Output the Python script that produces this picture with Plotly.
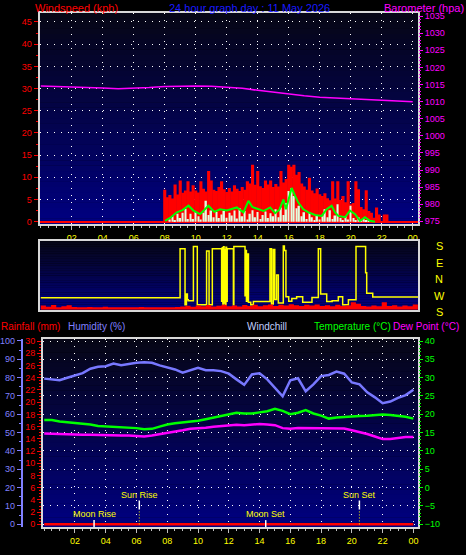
import plotly.graph_objects as go

FIG_W, FIG_H = 466, 555

# ------------------------------------------------------------------ data
HOUR_TICKS = [2, 4, 6, 8, 10, 12, 14, 16, 18, 20, 22, 24]
HOUR_LABELS = ["02", "04", "06", "08", "10", "12", "14", "16", "18", "20", "22", "00"]

# gusts (kph), 10-minute bars starting 08:00
GUST_START, GUST_STEP = 8.0, 1 / 6
gust = [7.2, 5.5, 6.0, 5.2, 8.4, 6.1, 9.3, 6.5, 7.0, 9.1, 6.8, 8.2, 7.0, 6.6, 9.1, 7.4,
        6.8, 11.4, 9.3, 7.2, 6.9, 7.8, 9.1, 7.3, 6.7, 7.6, 6.8, 8.2, 7.4, 6.9, 7.8, 7.2,
        9.1, 8.6, 12.8, 8.3, 11.4, 8.0, 7.6, 9.3, 8.4, 9.3, 7.8, 8.5, 7.9, 11.4, 8.8, 9.6,
        12.8, 12.4, 12.8, 10.6, 11.2, 8.6, 7.9, 7.2, 9.9, 7.0, 6.4, 7.5, 6.2, 5.8, 6.4, 5.3,
        4.8, 9.1, 5.2, 9.1, 4.9, 5.8, 4.4, 9.1, 3.9, 4.2, 9.1, 7.3, 3.3, 2.8, 7.1, 2.4,
        2.0, 0.9, 3.2, 1.6, 0.0, 1.6, 1.6, 0.0]

# average wind (kph), 10-minute bars starting 08:20
AVG_START, AVG_STEP = 8.333, 1 / 6
avg_wind = [0.5, 1.2, 0.3, 1.8, 0.8, 2.0, 2.9, 0.6, 1.8, 0.6, 2.2, 1.2, 0.5, 2.0, 4.7, 1.5,
            2.5, 1.0, 2.2, 0.8, 1.6, 2.4, 0.9, 2.0, 1.4, 2.5, 0.7, 3.1, 1.2, 2.4, 0.5, 1.8,
            2.6, 1.0, 2.2, 0.6, 1.5, 2.3, 0.8, 1.9, 1.2, 2.8, 1.0, 3.2, 1.5, 4.2, 6.9, 7.6,
            5.8, 3.0, 3.6, 1.2, 2.1, 0.6, 2.0, 1.0, 0.4, 1.5, 0.5, 1.2, 2.8, 1.0, 2.6, 0.6,
            1.4, 3.9, 0.8, 0.3, 1.2, 0.5, 3.6, 0.8, 0.3, 1.0, 0.2, 0.6, 0.2, 0.4]

# running average wind speed (green line)
avg_line_t = [8.02, 8.4, 8.78, 9.15, 9.53, 9.85, 10.28, 10.55, 10.82, 11.2, 11.57, 12.0, 12.3,
              12.65, 13.08, 13.4, 13.65, 13.94, 14.37, 14.8, 15.12, 15.4, 15.66, 15.82, 15.98,
              16.19, 16.41, 16.62, 16.94, 17.27, 17.7, 18.13, 18.45, 18.77, 18.99, 19.2,
              19.63, 19.95, 20.28, 20.6, 20.92, 21.24, 21.57]
avg_line = [0.2, 1.0, 2.1, 2.6, 3.6, 2.5, 1.7, 2.6, 3.6, 2.2, 2.8, 2.5, 2.9, 3.2, 2.1, 4.7,
            3.3, 2.9, 2.4, 3.2, 1.9, 2.7, 5.0, 2.8, 5.0, 7.6, 5.8, 4.3, 2.8, 2.1, 1.5, 1.3,
            2.8, 3.6, 2.1, 1.3, 1.0, 2.5, 1.7, 0.2, 1.0, 0.2, 0.0]

# barometer (hPa), hourly
baro_t = [0, 1, 2, 3, 4, 5, 6, 7, 8, 9, 10, 11, 12, 13, 14, 15, 16, 17, 18, 19, 20, 21, 22, 23, 24]
baro = [1014.6, 1014.5, 1014.4, 1014.2, 1014.0, 1013.8, 1013.9, 1014.1, 1014.4, 1014.6,
        1014.6, 1014.5, 1014.3, 1013.9, 1013.3, 1012.7, 1012.1, 1011.7, 1011.3, 1011.0,
        1010.7, 1010.6, 1010.4, 1010.2, 1010.0]

# wind direction (panel units: 0 = S, 90 = W, 180 = N, 270 = E, 360 = S)
dir_t = [0.0, 8.99, 9.31, 9.40, 9.46, 9.52, 9.85, 10.10, 10.70, 10.86, 11.07, 11.67, 11.71,
         11.75, 11.79, 11.83, 11.87, 11.91, 11.95, 11.99, 12.03, 12.10, 12.43, 12.46, 13.18,
         13.22, 13.27, 13.32, 13.40, 13.55, 13.72, 14.79, 14.89, 15.0, 15.1, 15.22, 15.33,
         15.38, 15.65, 15.72, 15.82, 16.0, 16.2, 16.51, 16.9, 17.5, 17.91, 18.06, 18.45,
         18.8, 19.20, 19.48, 19.85, 20.34, 20.96, 21.03, 21.42, 24.34]
dir_v = [79, 350, 41, 100, 68, 62, 362, 41, 337, 41, 350, 60, 355, 45, 360, 50, 345, 40, 358,
         60, 350, 350, 41, 362, 90, 340, 60, 320, 55, 41, 58, 350, 45, 345, 70, 204, 50, 50,
         365, 340, 85, 60, 75, 85, 55, 80, 350, 100, 58, 62, 84, 41, 68, 362, 217, 104, 83, 83]
DIR_LABELS = ["S", "E", "N", "W", "S"]

# red strip in the direction panel, 20-minute steps from 00:00
DIRBAR_STEP = 1 / 3
dir_bar = [1.8, 1.3, 2.0, 1.1, 1.5, 1.9, 1.2, 1.0,
           1.0, 1.2, 1.0, 1.0, 1.3, 1.0, 1.0, 1.1, 1.0, 1.0, 1.0, 1.2, 1.0, 1.0, 1.0, 1.1, 1.0, 1.0, 1.2,
           1.4, 1.7, 1.3, 1.8, 1.5, 2.0, 1.4, 1.7, 2.2, 1.5, 1.8, 1.4, 2.0,
           1.6, 2.2, 1.5, 1.9, 2.3, 1.6, 2.1, 1.8, 2.4, 1.9, 1.6, 2.2, 1.8, 2.3, 1.6,
           1.9, 1.5, 2.1, 1.6, 1.8, 3.2, 2.6, 1.6, 1.4, 1.8, 1.5, 3.2, 1.6, 1.9, 1.4, 1.8, 1.5, 2.3, 1.6]

# bottom panel, half-hourly from 00:00
LINE_STEP = 0.5
humidity = [79.4, 79.1, 78.5, 79.9, 81.2, 82.4, 84.8, 85.9, 86.2, 87.6,
            86.7, 87.4, 88.0, 88.3, 88.0, 86.6, 85.3, 84.4, 82.6, 83.9,
            85.3, 84.0, 84.0, 83.5, 82.1, 79.0, 76.0, 81.7, 82.3, 79.0,
            74.6, 69.8, 78.5, 79.6, 72.5, 76.3, 80.8, 81.4, 83.2, 82.1,
            77.3, 76.3, 71.9, 69.2, 66.0, 66.9, 68.9, 70.4, 73.3]
temperature = [18.4, 18.4, 18.0, 17.8, 17.7, 17.5, 17.2, 16.8, 16.7, 16.7,
               16.6, 16.4, 16.2, 15.9, 16.0, 16.6, 17.2, 17.5, 17.7, 18.0,
               18.2, 18.6, 19.0, 19.6, 19.9, 20.4, 20.2, 20.2, 20.5, 20.8,
               21.5, 20.9, 20.0, 20.4, 21.1, 20.2, 19.6, 18.8, 19.1, 19.3,
               19.3, 19.5, 19.6, 19.8, 19.9, 19.8, 19.6, 19.3, 18.8]
dewpoint = [14.7, 14.6, 14.6, 14.6, 14.5, 14.4, 14.4, 14.3, 14.3, 14.2,
            14.2, 14.2, 14.1, 13.9, 14.2, 14.5, 15.0, 15.3, 15.6, 16.0,
            16.1, 16.3, 16.6, 16.8, 16.9, 17.1, 17.0, 17.2, 17.3, 17.2,
            17.0, 16.2, 16.0, 16.2, 16.2, 16.0, 16.2, 16.0, 16.0, 16.1,
            15.6, 15.2, 14.6, 13.9, 13.2, 13.2, 13.5, 13.8, 13.8]
rain_t = [0, 2, 4, 6, 8, 10, 12, 14, 16, 18, 20, 22, 24]
rainfall = [0.0, 0.0, 0.0, 0.0, 0.0, 0.0, 0.0, 0.0, 0.0, 0.0, 0.0, 0.0, 0.0]

SUN_RISE, SUN_SET = 6.18, 20.49
MOON_RISE, MOON_SET = 3.24, 14.40
TITLE = "24 hour graph day : 11 May 2026"

# ------------------------------------------------------------------ helpers
gust_t = [GUST_START + i * GUST_STEP for i in range(len(gust))]
avg_t = [AVG_START + i * AVG_STEP for i in range(len(avg_wind))]
dirbar_t = [i * DIRBAR_STEP for i in range(len(dir_bar))]
line_t = [i * LINE_STEP for i in range(len(humidity))]

FONT = "Liberation Sans, Arial, sans-serif"
BORDER = "#d8d8d8"
TICKC = "#c0c0c0"
DOTS = "1px,6px"


def px_x(p):
    return p / FIG_W


def px_y(p):
    return 1 - p / FIG_H


TOP_X = [px_x(39.5), px_x(418)]
TOP_Y = [px_y(223.3), px_y(10)]
DIR_Y = [px_y(310), px_y(241)]
BOT_X = [px_x(43), px_x(418)]
BOT_Y = [px_y(530), px_y(339.3)]

fig = go.Figure()

# top panel
fig.add_trace(go.Bar(x=gust_t, y=gust, width=GUST_STEP * 1.2, marker=dict(color="#ff0000", line_width=0),
                     xaxis="x", yaxis="y", name="Gust"))
fig.add_trace(go.Bar(x=avg_t, y=avg_wind, width=0.1, marker=dict(color="#e0ffe0", line_width=0),
                     xaxis="x", yaxis="y", name="Average"))
fig.add_trace(go.Scatter(x=avg_line_t, y=avg_line, mode="lines", line=dict(color="#00ff00", width=2),
                         xaxis="x", yaxis="y", name="Wind"))
fig.add_trace(go.Scatter(x=baro_t, y=baro, mode="lines", line=dict(color="#ff00ff", width=1.5),
                         xaxis="x", yaxis="y2", name="Barometer"))
# direction panel
fig.add_trace(go.Scatter(x=dirbar_t, y=dir_bar, mode="lines", line=dict(color="#ff0000", width=0, shape="hv"),
                         fill="tozeroy", fillcolor="#ff0000", xaxis="x2", yaxis="y4", name="strip"))
fig.add_trace(go.Scatter(x=dir_t, y=dir_v, mode="lines", line=dict(color="#ffff00", width=1.5, shape="hv"),
                         xaxis="x2", yaxis="y3", name="Direction"))
# bottom panel
fig.add_trace(go.Scatter(x=rain_t, y=rainfall, mode="lines", line=dict(color="#ff0000", width=2.5),
                         xaxis="x3", yaxis="y5", name="Rainfall"))
fig.add_trace(go.Scatter(x=line_t, y=humidity, mode="lines", line=dict(color="#7878ff", width=2.5),
                         xaxis="x3", yaxis="y6", name="Humidity"))
fig.add_trace(go.Scatter(x=line_t, y=temperature, mode="lines", line=dict(color="#00ff00", width=2.5),
                         xaxis="x3", yaxis="y7", name="Temperature"))
fig.add_trace(go.Scatter(x=line_t, y=dewpoint, mode="lines", line=dict(color="#ff00ff", width=2.5),
                         xaxis="x3", yaxis="y7", name="Dew Point"))

tickfont_t = dict(family=FONT, size=9, color="#ffff00")


def time_axis(domain, anchor, rng, labels=True):
    return dict(domain=domain, anchor=anchor, range=rng, tickmode="array", tickvals=HOUR_TICKS,
                ticktext=HOUR_LABELS, showticklabels=labels, tickfont=tickfont_t,
                ticks="outside" if labels else "", ticklen=4, tickcolor=TICKC,
                minor=dict(ticks="outside" if labels else "", ticklen=2, dtick=0.5, tick0=0,
                           tickcolor=TICKC, showgrid=False),
                showgrid=labels, gridcolor="#ffffff", gridwidth=1, griddash=DOTS,
                showline=True, mirror=True, linecolor=BORDER, linewidth=2, zeroline=False)


def val_axis(color, **kw):
    d = dict(tickfont=dict(family=FONT, size=9, color=color), ticks="outside", ticklen=4,
             tickcolor=color, showgrid=False, zeroline=False)
    d.update(kw)
    return d


fig.update_layout(
    width=FIG_W, height=FIG_H, margin=dict(l=0, r=0, t=0, b=0),
    paper_bgcolor="#000000", plot_bgcolor="#000000", showlegend=False,
    barmode="overlay", font=dict(family=FONT, color="#ffffff"),
    xaxis=time_axis(TOP_X, "y", [-0.08, 24.34]),
    xaxis2=time_axis(TOP_X, "y3", [-0.08, 24.34], labels=False),
    xaxis3=time_axis(BOT_X, "y5", [-0.08, 24.3]),
    yaxis=val_axis("#ff0000", domain=TOP_Y, anchor="x", range=[-0.5, 47.05],
                   tickmode="array", tickvals=[0, 5, 10, 15, 20, 25, 30, 35, 40, 45],
                   minor=dict(ticks="outside", ticklen=2, dtick=2.5, tickcolor="#ff0000", showgrid=False),
                   showgrid=True, gridcolor="#ffffff", griddash=DOTS,
                   zeroline=True, zerolinecolor="#ff0000", zerolinewidth=2,
                   showline=True, mirror=True, linecolor=BORDER, linewidth=2),
    yaxis2=val_axis("#ff00ff", overlaying="y", anchor="x", side="right", range=[974.25, 1035.95],
                    tickmode="array", tickvals=list(range(975, 1036, 5)),
                    minor=dict(ticks="outside", ticklen=2, dtick=1, tick0=975, tickcolor="#ff00ff")),
    yaxis3=dict(domain=DIR_Y, anchor="x2", range=[13.6, 389.9], showticklabels=False, ticks="",
                showgrid=False, zeroline=False, showline=True, mirror=True, linecolor=BORDER, linewidth=2),
    yaxis4=dict(overlaying="y3", anchor="x2", range=[0, 30], visible=False),
    yaxis5=val_axis("#ff0000", domain=BOT_Y, anchor="x3", range=[-0.48, 30.4],
                    tickmode="array", tickvals=list(range(0, 31, 2)),
                    minor=dict(ticks="outside", ticklen=2, dtick=0.5, tickcolor="#ff0000"),
                    showline=True, mirror=True, linecolor=BORDER, linewidth=2),
    yaxis6=val_axis("#8080ff", overlaying="y5", anchor="free", position=px_x(21.7), side="left",
                    range=[-1.6, 101.2], tickmode="array", tickvals=list(range(0, 101, 10)),
                    minor=dict(ticks="outside", ticklen=2, dtick=5, tickcolor="#8080ff"),
                    showline=True, linecolor="#8080ff", linewidth=2),
    yaxis7=val_axis("#00ff00", overlaying="y5", anchor="x3", side="right", range=[-10.89, 40.65],
                    tickmode="array", tickvals=list(range(-10, 41, 5)),
                    minor=dict(ticks="outside", ticklen=2, dtick=1, tick0=0, tickcolor="#00ff00"),
                    showgrid=True, gridcolor="#ffffff", griddash=DOTS),
)

# background gradients
shapes = []
N = 40
TOPC, BOTC = (6, 6, 22), (0, 0, 128)
for xr, yr in (("x domain", "y domain"), ("x2 domain", "y3 domain"), ("x3 domain", "y5 domain")):
    for i in range(N):
        f = i / (N - 1)
        c = tuple(round(BOTC[k] + (TOPC[k] - BOTC[k]) * f) for k in range(3))
        shapes.append(dict(type="rect", xref=xr, yref=yr, x0=0, x1=1, y0=i / N, y1=(i + 1) / N + 0.002,
                           fillcolor="rgb(%d,%d,%d)" % c, line=dict(width=0), layer="below"))

# sun / moon markers
for t in (SUN_RISE, SUN_SET):
    shapes.append(dict(type="line", xref="x3", yref="y5 domain", x0=t, x1=t, y0=0.094, y1=0.142,
                       line=dict(color="#ffffff", width=1.5)))
    shapes.append(dict(type="line", xref="x3", yref="y5 domain", x0=t, x1=t, y0=0.015, y1=0.094,
                       line=dict(color="#ffff00", width=1, dash="1px,2px")))
for t in (MOON_RISE, MOON_SET):
    shapes.append(dict(type="line", xref="x3", yref="y5 domain", x0=t, x1=t, y0=0.0, y1=0.038,
                       line=dict(color="#ffffff", width=1.5)))
fig.update_layout(shapes=shapes)

ann = []


def text(x, y, s, color, size, xanchor="center", xref="paper", yref="paper"):
    ann.append(dict(x=x, y=y, xref=xref, yref=yref, text=s, showarrow=False, xanchor=xanchor,
                    yanchor="middle", font=dict(family=FONT, size=size, color=color)))


text(px_x(33), px_y(5.5), "Windspeed (kph)", "#ff0000", 11, "left")
text(px_x(250), px_y(5.5), TITLE, "#1a1aff", 11)
text(px_x(466), px_y(5.5), "Barometer (hpa)", "#ff00ff", 11, "right")

text(px_x(-1), px_y(327.5), "Rainfall (mm)", "#ff0000", 10, "left")
text(px_x(66), px_y(327.5), "Humidity (%)", "#8080ff", 10, "left")
text(px_x(245), px_y(327.5), "Windchill", "#c0d0ff", 10, "left")
text(px_x(312), px_y(327.5), "Temperature (°C)", "#00ff00", 10, "left")
text(px_x(391), px_y(327.5), "Dew Point (°C)", "#ff00ff", 10, "left")

for lab, yp in zip(DIR_LABELS, (245.5, 262.5, 279.5, 296.5, 312.0)):
    text(px_x(439), px_y(yp), lab, "#ffff00", 11)

text(SUN_RISE, 0.169, "Sun Rise", "#ffff00", 9, xref="x3", yref="y5 domain")
text(SUN_SET, 0.169, "Sun Set", "#ffff00", 9, xref="x3", yref="y5 domain")
text(MOON_RISE, 0.07, "Moon Rise", "#ffff00", 9, xref="x3", yref="y5 domain")
text(MOON_SET, 0.07, "Moon Set", "#ffff00", 9, xref="x3", yref="y5 domain")
fig.update_layout(annotations=ann)

fig.write_html("out.html", config={"displayModeBar": False},
               post_script="document.body.style.margin='0';")
